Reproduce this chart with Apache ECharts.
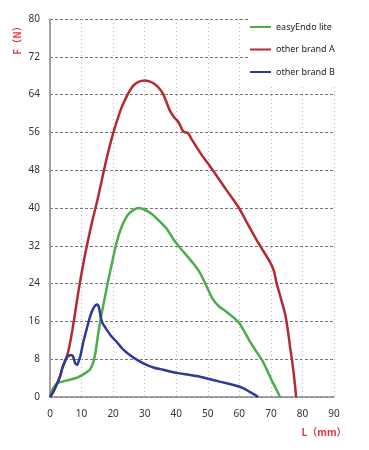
<!DOCTYPE html>
<html>
<head>
<meta charset="utf-8">
<script src="https://cdn.jsdelivr.net/npm/echarts@6/dist/echarts.min.js"></script>
<style>html,body{margin:0;padding:0;background:#fff}#c{width:369px;height:450px}</style>
</head>
<body>
<div id="c"></div>
<script>
var seriesNames = ['easyEndo lite', 'other brand A', 'other brand B'];
var xTicks = [0, 10, 20, 30, 40, 50, 60, 70, 80, 90];
var yTicks = [0, 8, 16, 24, 32, 40, 48, 56, 64, 72, 80];

var easyEndoLite = [
  [0,0],[0.6,1.3],[1.3,2.2],[2.3,2.9],[3.4,3.2],[6,3.6],[9,4.2],[11,5],[12.5,5.7],[13.3,6.6],
  [13.9,7.8],[14.5,9.8],[15.3,13.5],[16.4,17.8],[17.5,21.5],[18.5,24.8],[19.7,28.5],
  [20.7,31.6],[21.7,34.1],[22.8,36.2],[23.8,37.6],[25,38.8],[26.5,39.6],[28,40],[29.5,39.8],
  [31,39.3],[32.7,38.5],[35,37],[37,35.6],[39,33.5],[41.2,31.6],[43.5,29.8],[45.5,28.2],
  [47.5,26.3],[49.5,23.6],[51.5,20.8],[53.5,19.2],[56,18],[58,16.9],[59.7,15.9],
  [61.5,14],[63.4,11.7],[65.2,9.8],[67,8],[68.7,5.8],[70.2,3.6],[71.6,1.8],[72.9,0]
];
var otherBrandA = [
  [0,0],[1.2,1.3],[2.3,2.9],[3.2,4.4],[3.9,6.1],[5,8],[5.7,9.4],[6.4,11.6],[7.1,14.2],
  [8,18],[9,22.3],[10,26.2],[11,29.8],[12,33],[13,36.1],[14,38.9],[15,41.6],[16,44.6],
  [17.1,48],[18.5,52],[20,55.8],[21.3,58.6],[22.7,61.3],[24,63.2],[25,64.5],[26.4,65.9],
  [28,66.7],[30,67],[31.5,66.8],[33,66.3],[34.5,65.4],[35.8,64.2],[36.8,62.6],[38,60.6],
  [39.2,59.3],[40.2,58.6],[41.2,57.6],[42,56.4],[42.8,56],[43.7,55.9],[45,54.4],[48,51.3],
  [51.6,48],[55.7,44],[59.9,40],[62.5,36.8],[65.5,33.2],[67.5,31],[69.7,28.6],[71,26.6],
  [71.8,24.1],[73.2,20.8],[74.5,17.6],[75.4,14],[76.1,10.5],[76.7,7.8],[77.4,4],[78,0]
];
var otherBrandB = [
  [0,0],[1.2,1.3],[2.3,2.9],[3.2,4.4],[3.9,6.1],[5,8],[5.7,8.6],[6.6,8.9],[7.3,8.6],[8,7.1],
  [8.6,6.8],[9.2,7.8],[9.7,8.9],[10.6,11.8],[11.6,14.3],[12.7,17],[13.6,18.6],[14.4,19.4],
  [15,19.6],[15.5,19],[16,17.2],[16.6,15.7],[18,14.2],[19.5,12.8],[21.1,11.7],[23,10.2],
  [25.3,8.9],[28,7.7],[30.6,6.8],[33,6.2],[35,5.9],[38,5.4],[41,5],[44,4.7],[47.5,4.3],
  [50.5,3.8],[53.5,3.3],[56,2.9],[58.5,2.5],[61.2,1.9],[63,1.2],[64.8,0.5],[66,0]
];
var seriesColors = ['#4cae4a', '#b52a32', '#2b3a9b'];

var chart = echarts.init(document.getElementById('c'), null, {renderer: 'canvas'});
var labelFont = {fontFamily: 'Noto Sans', fontSize: 10, color: '#333'};
chart.setOption({
  animation: false,
  backgroundColor: '#fff',
  grid: {left: 50, right: 35, top: 19, bottom: 53, containLabel: false},
  legend: {
    orient: 'vertical', left: 248, top: 15,
    padding: [6, 4, 6, 2], itemGap: 10.5,
    backgroundColor: '#fff',
    icon: 'rect', itemWidth: 21, itemHeight: 2,
    textStyle: {fontFamily: 'Noto Sans', fontSize: 9, color: '#222', lineHeight: 12},
    data: seriesNames
  },
  xAxis: {
    type: 'value', min: xTicks[0], max: xTicks[xTicks.length - 1], interval: 10,
    axisLine: {show: true, lineStyle: {color: '#8a8a8a', width: 1.5}},
    axisTick: {show: false},
    axisLabel: Object.assign({margin: 12}, labelFont),
    splitLine: {show: true, lineStyle: {color: '#b8b8b8', type: [1, 3], width: 1}}
  },
  yAxis: {
    type: 'value', min: yTicks[0], max: yTicks[yTicks.length - 1], interval: 8,
    axisLine: {show: true, lineStyle: {color: '#8a8a8a', width: 1.5}},
    axisTick: {show: false},
    axisLabel: Object.assign({margin: 10}, labelFont),
    splitLine: {show: true, lineStyle: {color: '#777', type: [3, 2], width: 1}}
  },
  graphic: [
    {type: 'text', x: 17, y: 38, rotation: Math.PI / 2,
     style: {text: 'F（N）', fill: '#e0383a', font: 'bold 10px "Noto Sans CJK SC"', align: 'center', verticalAlign: 'middle'}},
    {type: 'text', x: 324, y: 432,
     style: {text: 'L（mm）', fill: '#e0383a', font: 'bold 10px "Noto Sans CJK SC"', align: 'center', verticalAlign: 'middle'}}
  ],
  series: [
    {name: seriesNames[0], type: 'line', data: easyEndoLite, showSymbol: false, smooth: 0.2,
     lineStyle: {color: seriesColors[0], width: 2.5}, itemStyle: {color: seriesColors[0]}},
    {name: seriesNames[1], type: 'line', data: otherBrandA, showSymbol: false, smooth: 0.2,
     lineStyle: {color: seriesColors[1], width: 2.5}, itemStyle: {color: seriesColors[1]}},
    {name: seriesNames[2], type: 'line', data: otherBrandB, showSymbol: false, smooth: 0.2,
     lineStyle: {color: seriesColors[2], width: 2.5}, itemStyle: {color: seriesColors[2]}}
  ]
});
</script>
</body>
</html>
